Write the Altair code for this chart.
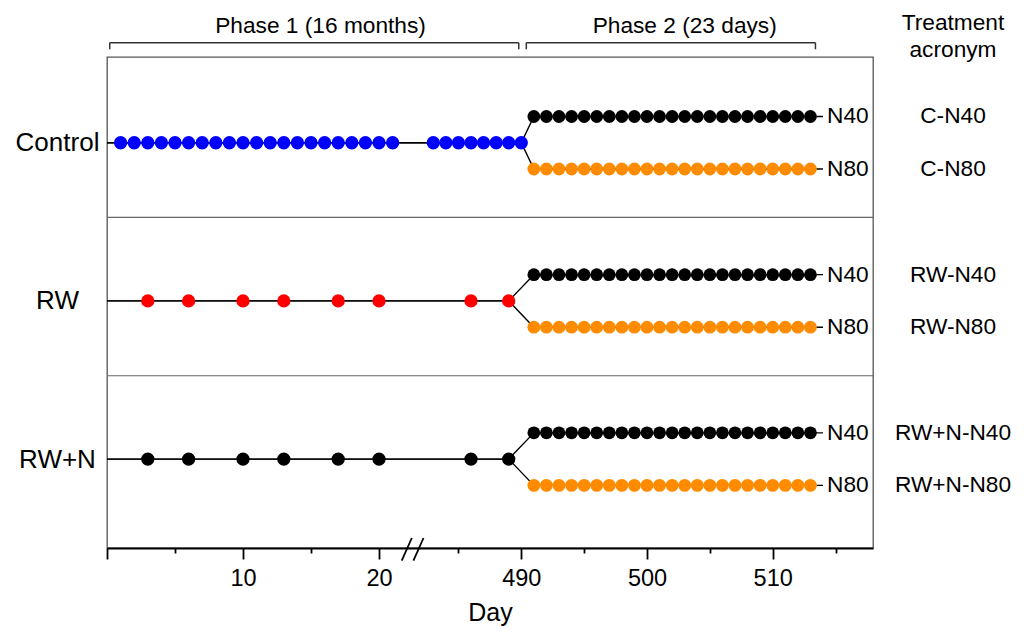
import altair as alt
import pandas as pd

# ---------------- data ----------------
groups = ["Control", "RW", "RW+N"]
group_colors = ["#0000ff", "#ff0000", "#000000"]

control_phase1_days = [1, 2, 3, 4, 5, 6, 7, 8, 9, 10, 11, 12, 13, 14, 15, 16, 17, 18, 19, 20, 21,
                       483, 484, 485, 486, 487, 488, 489, 490]
rw_phase1_days = [3, 6, 10, 13, 17, 20, 486, 489]
rwn_phase1_days = [3, 6, 10, 13, 17, 20, 486, 489]
phase1_days = [control_phase1_days, rw_phase1_days, rwn_phase1_days]

phase2_days = [491, 492, 493, 494, 495, 496, 497, 498, 499, 500, 501, 502,
               503, 504, 505, 506, 507, 508, 509, 510, 511, 512, 513]
n_levels = ["N40", "N80"]
n_colors = ["#000000", "#ff8c00"]
acronyms = [["C-N40", "C-N80"], ["RW-N40", "RW-N80"], ["RW+N-N40", "RW+N-N80"]]

line_start_day = 0
line_end_day = 514

phase_names = ["Phase 1 (16 months)", "Phase 2 (23 days)"]
phase_start_days = [0.2, 490.4]
phase_end_days = [489.8, 513.4]
phase_label_days = [15.7, 503.0]

tick_days = [0, 5, 10, 15, 20, 485, 490, 495, 500, 505, 510, 515]

# ---------------- broken-axis layout constants ----------------
U490 = 30.46          # axis position of day 490 (in phase-1 day units)
RIGHT_RATIO = 0.9243  # width of a phase-2 day relative to a phase-1 day
U_MAX = 56.32
BRANCH = 0.166
Y_DOMAIN = [-0.542, 2.562]
SEPARATORS = [0.472, 1.473]
BREAK_CENTERS = [22.04, 22.9]
BREAK_HALF = 0.37
W, H = 766, 491


def to_u(d):
    return d if d < 100 else U490 + (d - 490) * RIGHT_RATIO


# ---------------- tables ----------------
line_rows, pt_rows, lab_rows, acr_rows = [], [], [], []
for gi, g in enumerate(groups):
    last = max(phase1_days[gi])
    for bi, n in enumerate(n_levels):
        yb = gi - BRANCH if bi == 0 else gi + BRANCH
        pts = [(line_start_day, gi), (last, gi), (phase2_days[0], yb), (line_end_day, yb)]
        for oi, (d, yy) in enumerate(pts):
            line_rows.append({"id": f"{g}-{n}", "o": oi, "u": to_u(d), "y": yy})
        for d in phase2_days:
            pt_rows.append({"u": to_u(d), "y": yb, "key": n, "ph": 2})
        lab_rows.append({"u": to_u(line_end_day), "y": yb, "t": n})
        acr_rows.append({"y": yb, "t": acronyms[gi][bi]})
    for d in phase1_days[gi]:
        pt_rows.append({"u": to_u(d), "y": gi, "key": g, "ph": 1})

lines_df = pd.DataFrame(line_rows)
pts_df = pd.DataFrame(pt_rows)
lab_df = pd.DataFrame(lab_rows)
acr_df = pd.DataFrame(acr_rows)
sep_df = pd.DataFrame({"y": SEPARATORS})
phase_df = pd.DataFrame({
    "name": phase_names,
    "u": [to_u(d) for d in phase_start_days],
    "u2": [to_u(d) for d in phase_end_days],
    "ul": [to_u(d) for d in phase_label_days],
})
leg_df = pd.DataFrame({"u": [to_u(d) for d in phase_start_days + phase_end_days]})
slash_df = pd.DataFrame({"u": [c - BREAK_HALF for c in BREAK_CENTERS],
                         "u2": [c + BREAK_HALF for c in BREAK_CENTERS]})
head_df = pd.DataFrame({"t": ["Treatment\nacronym"]})

# ---------------- scales / axes ----------------
day_expr = f"(datum.value < 26 ? round(datum.value) : round(490 + (datum.value - {U490}) / {RIGHT_RATIO}))"
xscale = alt.Scale(domain=[0, U_MAX], nice=False, zero=False)
xaxis = alt.Axis(
    values=[to_u(d) for d in tick_days],
    labelExpr=f"({day_expr} % 10 == 0 && {day_expr} > 0) ? format({day_expr}, 'd') : ''",
    title="Day", grid=False,
    domainColor="black", domainWidth=1.8,
    tickColor="black", tickWidth=1.8,
    tickSize={"condition": {"test": f"{day_expr} % 10 == 0", "value": 11}, "value": 5},
    labelFontSize=23.5, labelColor="black", labelPadding=7, labelOverlap=False, labelFlush=False,
    titleFontSize=25, titleFontWeight="normal", titleColor="black", titlePadding=11,
)
yscale = alt.Scale(domain=Y_DOMAIN, nice=False, zero=False, reverse=True)
yaxis = alt.Axis(
    values=[0, 1, 2], labelExpr="['Control','RW','RW+N'][datum.value]",
    ticks=False, tickSize=0, domain=False, grid=False, title=None,
    labelFontSize=26, labelAlign="center", labelPadding=50, labelColor="black",
)
X = alt.X("u:Q", scale=xscale, axis=xaxis)
Y = alt.Y("y:Q", scale=yscale, axis=yaxis)

color = alt.Color("key:N", scale=alt.Scale(domain=groups + n_levels, range=group_colors + n_colors),
                  legend=None)
size = alt.Size("ph:O", scale=alt.Scale(domain=[1, 2], range=[177, 164]), legend=None)

seps = alt.Chart(sep_df).mark_rule(color="#666666", strokeWidth=1.2).encode(y=Y)
lines = alt.Chart(lines_df).mark_line(color="black", strokeWidth=1.4).encode(
    x=X, y=Y, detail="id:N", order="o:Q")
points = alt.Chart(pts_df).mark_point(filled=True, opacity=1, shape="circle",
                                      strokeWidth=0).encode(x=X, y=Y, color=color, size=size)
nlabels = alt.Chart(lab_df).mark_text(align="left", baseline="middle", dx=4, fontSize=22.7,
                                      color="black").encode(x=X, y=Y, text="t:N")
acr = alt.Chart(acr_df).mark_text(align="center", baseline="middle", fontSize=22.7,
                                  color="black").encode(x=alt.value(846), y=Y, text="t:N")
head = alt.Chart(head_df).mark_text(align="center", baseline="alphabetic", fontSize=22.7,
                                    lineBreak="\n", lineHeight=27, color="black").encode(
    x=alt.value(846), y=alt.value(-27), text="t:N")
brackets = alt.Chart(phase_df).mark_rule(color="#333333", strokeWidth=1.5).encode(
    x=X, x2="u2:Q", y=alt.value(-14.3))
legs = alt.Chart(leg_df).mark_rule(color="#333333", strokeWidth=1.5).encode(
    x=X, y=alt.value(-14.3), y2=alt.value(-7.7))
phase_labels = alt.Chart(phase_df).mark_text(align="center", baseline="alphabetic", fontSize=22.7,
                                             color="black").encode(
    x=alt.X("ul:Q", scale=xscale, axis=xaxis), y=alt.value(-24), text="name:N")
slashes = alt.Chart(slash_df).mark_rule(color="black", strokeWidth=1.8).encode(
    x=X, x2="u2:Q", y=alt.value(H + 12.7), y2=alt.value(H - 10))

chart = alt.layer(
    seps, lines, points, nlabels, acr, head, brackets, legs, phase_labels, slashes
).properties(
    width=W, height=H,
    autosize=alt.AutoSizeParams(type="none"),
    padding={"left": 99, "top": 49, "right": 143, "bottom": 79},
).configure(font="Liberation Sans").configure_view(
    stroke="#555555", strokeWidth=1.3
)

chart.save("out.html", embed_options={"renderer": "svg", "actions": False})
